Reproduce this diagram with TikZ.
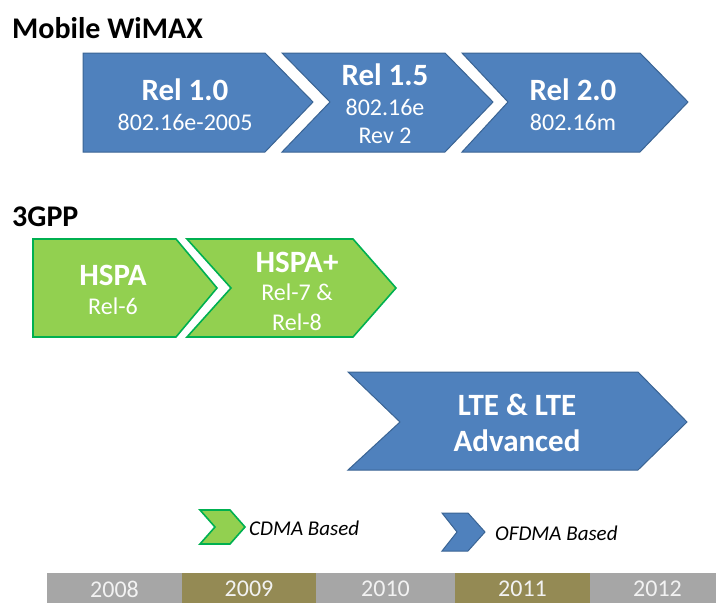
\documentclass[tikz,border=0pt]{standalone}
\usepackage{fontspec}
\setmainfont{Carlito}
\usepackage{xcolor}
\definecolor{wmblue}{HTML}{4F81BD}
\definecolor{wmedge}{HTML}{3A6494}
\definecolor{gpgreen}{HTML}{92D050}
\definecolor{gpedge}{HTML}{00B050}
\definecolor{yrgray}{HTML}{A6A6A6}
\definecolor{yrolive}{HTML}{948A54}
\definecolor{yrtext}{HTML}{F2F2F2}

\begin{document}
\begin{tikzpicture}[x=1pt,y=-1pt]
\useasboundingbox (0,0) rectangle (716,603);
\tikzstyle{bluechev}=[fill=wmblue, draw=wmedge, line width=1pt]
\tikzstyle{greenchev}=[fill=gpgreen, draw=gpedge, line width=1.6pt]
\tikzstyle{head}=[anchor=base west, inner sep=0pt,
                  font=\fontsize{30}{32}\selectfont\bfseries]
\tikzstyle{big}=[text=white, inner sep=0pt,
                 font=\fontsize{31}{33}\selectfont\bfseries]
\tikzstyle{small}=[text=white, inner sep=0pt,
                   font=\fontsize{24}{26}\selectfont]
\tikzstyle{legend}=[anchor=west, inner sep=0pt,
                    font=\fontsize{21}{23}\selectfont\itshape]

% section titles
\node[head] (wimax) at (12,38) {Mobile WiMAX};
\node[head] (gpp) at (12,226) {3GPP};

% Mobile WiMAX chevrons
\draw[bluechev] (83,53) -- (265,53) -- (313,102) -- (265,152) -- (83,152) -- cycle;
\draw[bluechev] (282,53) -- (445,53) -- (493,102) -- (445,152) -- (282,152) -- (330,102) -- cycle;
\draw[bluechev] (462,53) -- (640,53) -- (688,102) -- (640,152) -- (462,152) -- (508,102) -- cycle;
\node[big] (rel10) at (185,90) {Rel 1.0};
\node[small] (rel10b) at (185,122) {802.16e-2005};
\node[big] (rel15) at (385,75) {Rel 1.5};
\node[small] (rel15b) at (385,107) {802.16e};
\node[small] (rel15c) at (385,136) {Rev 2};
\node[big] (rel20) at (573,90) {Rel 2.0};
\node[small] (rel20b) at (573,122) {802.16m};

% 3GPP chevrons
\draw[greenchev] (33,239) -- (176,239) -- (217,288) -- (176,337) -- (33,337) -- cycle;
\draw[greenchev] (187,239) -- (353,239) -- (396,288) -- (353,337) -- (187,337) -- (231,288) -- cycle;
\node[big] (hspa) at (113,275) {HSPA};
\node[small] (hspab) at (113,306) {Rel-6};
\node[big] (hspap) at (297,262) {HSPA+};
\node[small] (hspapb) at (297,292) {Rel-7 \&};
\node[small] (hspapc) at (297,322) {Rel-8};

% LTE
\draw[bluechev] (348,372) -- (638,372) -- (687,422) -- (638,470) -- (348,470) -- (400,422) -- cycle;
\node[big] (lte) at (517,405) {LTE \& LTE};
\node[big] (lteb) at (517,441) {Advanced};

% legend
\draw[greenchev] (200,510) -- (230,510) -- (245,527) -- (230,544) -- (200,544) -- (215,527) -- cycle;
\node[legend] (cdma) at (249,528) {CDMA Based};
\draw[bluechev] (442,513) -- (468,513) -- (485,532) -- (468,551) -- (442,551) -- (457,532) -- cycle;
\node[legend] (ofdma) at (495,533) {OFDMA Based};

% time line
\foreach \yr/\xa/\xb/\c in {2008/47/182/yrgray, 2009/182/316/yrolive,
    2010/316/455/yrgray, 2011/455/590/yrolive, 2012/590/725/yrgray}{
  \fill[\c] (\xa,573) rectangle (\xb,603);
  \node[small, text=yrtext] (y\yr) at ({(\xa+\xb)/2},589) {\yr};
}
\end{tikzpicture}
\end{document}
